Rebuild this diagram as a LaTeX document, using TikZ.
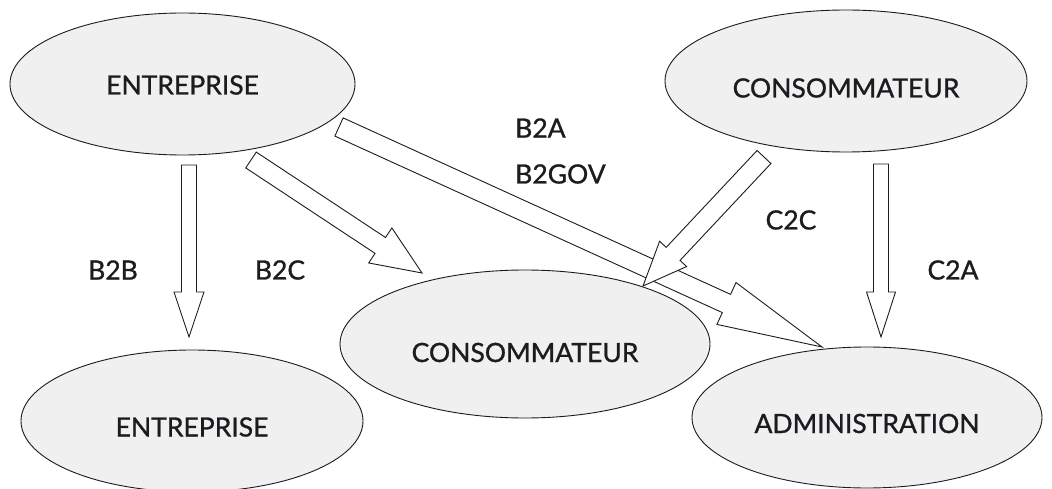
\documentclass[tikz,border=0pt]{standalone}
\usepackage{fontspec}
\setmainfont{Lato}[FakeBold=1.0]
\usetikzlibrary{shapes.geometric,calc}
\definecolor{ellfill}{RGB}{240,240,240}
\definecolor{inkc}{RGB}{28,28,32}
% #1 id, #2 tail, #3 tip, #4 half shaft, #5 half head, #6 head length
\newcommand\BlkArrow[6]{%
  \coordinate (#1n) at ($(#3)!#6!(#2)$);
  \draw[barrow] ($(#2)!#4!90:(#3)$) -- ($(#1n)!#4!90:(#3)$) -- ($(#1n)!#5!90:(#3)$) -- (#3)
     -- ($(#1n)!#5!-90:(#3)$) -- ($(#1n)!#4!-90:(#3)$) -- ($(#2)!#4!-90:(#3)$) -- cycle;
}
\begin{document}
\begin{tikzpicture}[x=1pt,y=-1pt,
  ell/.style={ellipse, draw=inkc, line width=0.9pt, fill=ellfill, inner sep=0pt,
    text=inkc, font=\fontsize{26.5}{30}\selectfont, text height=31pt, text depth=0pt},
  lbl/.style={text=inkc, inner sep=0pt, font=\fontsize{26.5}{30}\selectfont},
  barrow/.style={draw=inkc, fill=white, line width=0.9pt, line join=miter}]
\useasboundingbox (0,0) rectangle (1052,489);
\fill[white] (0,0) rectangle (1052,489);

% ellipses
\node[ell, minimum width=345pt, minimum height=142pt, text height=21pt] (ent1) at (182.5,84) {ENTREPRISE};
\node[ell, minimum width=362pt, minimum height=142pt, text height=33pt] (con1) at (846,81) {CONSOMMATEUR};
\node[ell, minimum width=370pt, minimum height=148pt, text height=36pt] (con2) at (525,344) {CONSOMMATEUR};
\node[ell, minimum width=342pt, minimum height=142pt] (ent2) at (192,421) {ENTREPRISE};
\node[ell, minimum width=350pt, minimum height=141pt] (adm) at (867,417.5) {ADMINISTRATION};

% arrow ends
\coordinate (b2b-s) at (189,165);  \coordinate (b2b-e) at (189,337);
\coordinate (c2a-s) at (881,164);  \coordinate (c2a-e) at (881,337);
\coordinate (b2c-s) at (251,160);  \coordinate (b2c-e) at (422,273);
\coordinate (b2a-s) at (339,127);  \coordinate (b2a-e) at (822,347);
\coordinate (c2c-s) at (764,157);  \coordinate (c2c-e) at (643,286);

\BlkArrow{aa}{b2b-s}{b2b-e}{7.5pt}{15pt}{45pt}
\BlkArrow{ab}{c2a-s}{c2a-e}{7.5pt}{14.5pt}{45pt}
\BlkArrow{ac}{b2c-s}{b2c-e}{9.5pt}{21pt}{50pt}
\BlkArrow{ad}{b2a-s}{b2a-e}{10pt}{23pt}{105pt}
\BlkArrow{ae}{c2c-s}{c2c-e}{9.5pt}{18.5pt}{44pt}

% labels
\node[lbl, anchor=west] (lb2a) at (515,128) {B2A};
\node[lbl, anchor=west] (lb2gov) at (515,174) {B2GOV};
\node[lbl] (lc2c) at (791,220) {C2C};
\node[lbl] (lc2a) at (953,270) {C2A};
\node[lbl] (lb2b) at (113,270) {B2B};
\node[lbl] (lb2c) at (280,270) {B2C};
\end{tikzpicture}
\end{document}
